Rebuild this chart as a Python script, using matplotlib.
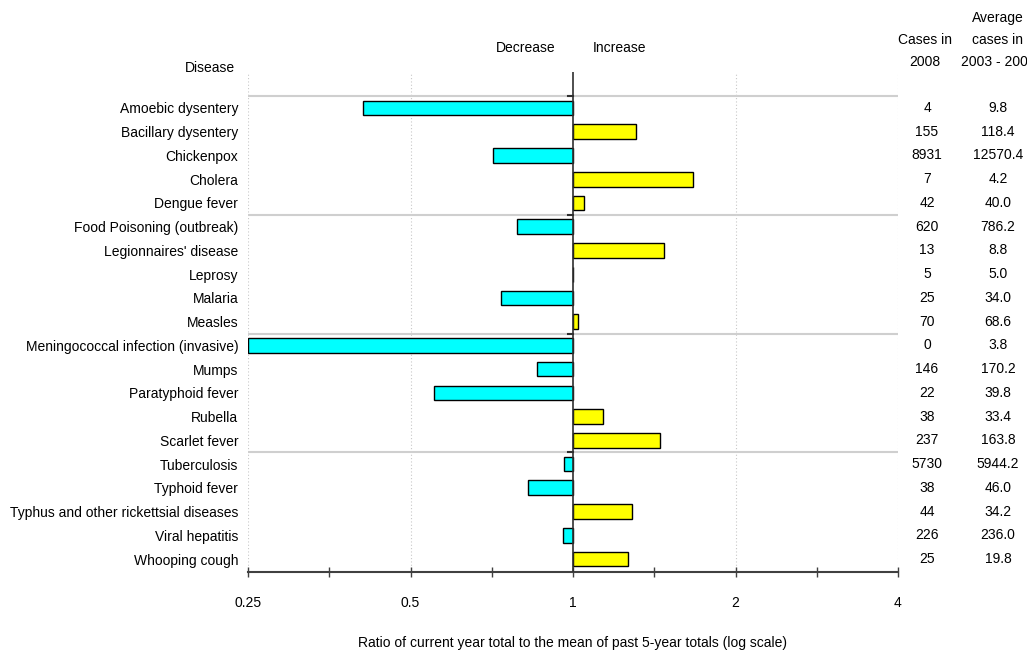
import numpy as np
import matplotlib.pyplot as plt
import matplotlib.transforms as mtransforms
from matplotlib.ticker import FixedLocator, NullFormatter

plt.rcParams['font.family'] = ['Liberation Sans Narrow', 'Liberation Sans', 'DejaVu Sans']

diseases = ['Amoebic dysentery', 'Bacillary dysentery', 'Chickenpox', 'Cholera',
            'Dengue fever', 'Food Poisoning (outbreak)', "Legionnaires' disease",
            'Leprosy', 'Malaria', 'Measles', 'Meningococcal infection (invasive)',
            'Mumps', 'Paratyphoid fever', 'Rubella', 'Scarlet fever', 'Tuberculosis',
            'Typhoid fever', 'Typhus and other rickettsial diseases', 'Viral hepatitis',
            'Whooping cough']
cases_2008 = [4, 155, 8931, 7, 42, 620, 13, 5, 25, 70, 0, 146, 22, 38, 237,
              5730, 38, 44, 226, 25]
avg_2003_2007 = [9.8, 118.4, 12570.4, 4.2, 40.0, 786.2, 8.8, 5.0, 34.0, 68.6, 3.8,
                 170.2, 39.8, 33.4, 163.8, 5944.2, 46.0, 34.2, 236.0, 19.8]
x_ticks = [0.25, 0.5, 1, 2, 4]
x_tick_labels = ['0.25', '0.5', '1', '2', '4']

FS = 10
xmin, xmax = 0.25, 4
ratio = np.array(cases_2008) / np.array(avg_2003_2007)
ratio = np.clip(ratio, xmin, None)
colors = ['#00FFFF' if r < 1 else '#FFFF00' for r in ratio]
ypos = np.arange(len(diseases))

W, H = 1027, 652
fig = plt.figure(figsize=(W / 100, H / 100), dpi=100)
ax = fig.add_axes([248 / W, 1 - 572 / H, (898 - 248) / W, (572 - 72) / H])
ax.set_xscale('log', base=2)

ax.barh(ypos, np.abs(ratio - 1), left=np.minimum(ratio, 1), height=0.62,
        color=colors, edgecolor='black', linewidth=1, zorder=3)

ax.set_xlim(xmin, xmax)
ax.set_ylim(19.545, -1.516)

# dotted grid at the labelled ratios (except 1, which gets the solid line)
for g in [0.25, 0.5, 2, 4]:
    ax.axvline(g, color='#c8c8c8', linestyle=(0, (1, 2)), linewidth=0.8, zorder=1)
ax.axvline(1, color='#303030', linewidth=1.2, zorder=4)

# group separators every five diseases
for s in [-0.5, 4.5, 9.5, 14.5]:
    ax.axhline(s, color='#cfcfcf', linewidth=1.5, zorder=2)
    ax.plot([0.98, 1], [s, s], color='#303030', linewidth=1.5, zorder=4)

for side in ['top', 'right', 'left']:
    ax.spines[side].set_visible(False)
ax.spines['bottom'].set_color('#404040')
ax.spines['bottom'].set_linewidth(1.5)

ax.xaxis.set_major_locator(FixedLocator(x_ticks))
ax.xaxis.set_minor_locator(FixedLocator([0.25 * 2 ** (k / 2) for k in range(1, 8, 2)]))
ax.xaxis.set_minor_formatter(NullFormatter())
ax.set_xticklabels(x_tick_labels)
ax.tick_params(axis='x', which='both', direction='inout', length=7, width=1,
               color='#404040', labelsize=FS, pad=14)

ax.set_yticks(ypos)
ax.set_yticklabels(diseases, fontsize=FS)
ax.tick_params(axis='y', length=0, pad=7)

fig.text(573 / W, 1 - 643 / H,
         'Ratio of current year total to the mean of past 5-year totals (log scale)',
         ha='center', va='center', fontsize=FS)

# side columns with raw counts
trans = mtransforms.blended_transform_factory(fig.transFigure, ax.transData)
for y, c, a in zip(ypos, cases_2008, avg_2003_2007):
    ax.text(927 / W, y, str(c), transform=trans, ha='center', va='center',
            fontsize=FS, clip_on=False)
    ax.text(998 / W, y, f'{a:.1f}', transform=trans, ha='center', va='center',
            fontsize=FS, clip_on=False)

fig.text(925 / W, 1 - 51 / H, 'Cases in\n2008', ha='center', va='center',
         fontsize=FS, linespacing=1.75)
fig.text(998 / W, 1 - 40 / H, 'Average\ncases in\n2003 - 2007', ha='center', va='center',
         fontsize=FS, linespacing=1.75)
fig.text(210 / W, 1 - 68 / H, 'Disease', ha='center', va='center', fontsize=FS)
fig.text(526 / W, 1 - 48 / H, 'Decrease', ha='center', va='center', fontsize=FS)
fig.text(619 / W, 1 - 48 / H, 'Increase', ha='center', va='center', fontsize=FS)

fig.savefig('out.png', dpi=100)
